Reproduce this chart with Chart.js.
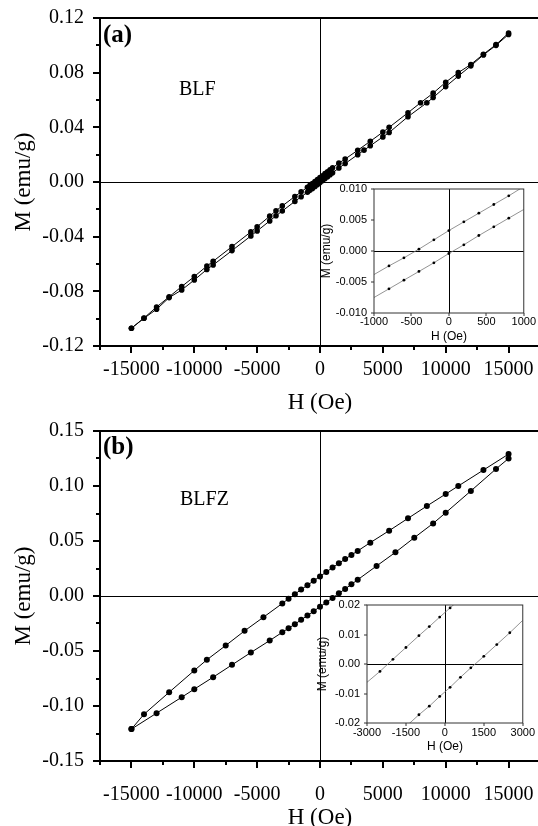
<!DOCTYPE html>
<html>
<head>
<meta charset="utf-8">
<title>BLF / BLFZ M-H loops</title>
<script src="https://cdn.jsdelivr.net/npm/chart.js@4.4.1/dist/chart.umd.min.js"></script>
<style>
  html, body { margin: 0; padding: 0; background: #fff; overflow: hidden; }
  body { width: 538px; height: 826px; position: relative; }
  canvas { position: absolute; }
</style>
</head>
<body>
<canvas id="mainA" width="545" height="414" style="left:0;top:0"></canvas>
<canvas id="mainB" width="545" height="416" style="left:0;top:413px"></canvas>
<canvas id="insetA" width="220" height="162" style="left:318px;top:181px"></canvas>
<canvas id="insetB" width="224" height="156" style="left:314px;top:597px"></canvas>
<script>
// (a) BLF, field going down (upper branch) and going up (lower branch)
const hA_down = [15000, 14000, 13000, 12000, 11000, 10000, 9000, 8000, 7000, 5500, 5000, 4000, 3000, 2000, 1500,
  1000, 800, 600, 400, 200, 0, -200, -400, -600, -800, -1000, -1500, -2000, -3000, -3500, -4000, -5000, -5500,
  -7000, -8500, -9000, -10000, -11000, -12000, -13000, -14000, -15000];
const mA_down = [0.109, 0.1005, 0.0935, 0.0860, 0.0800, 0.0730, 0.0650, 0.0580, 0.0507, 0.0400, 0.0365, 0.0298, 0.0232, 0.0168, 0.0138,
  0.0104, 0.0089, 0.0075, 0.0061, 0.0046, 0.0033, 0.0018, 0.0003, -0.0011, -0.0024, -0.0038, -0.0072, -0.0106, -0.0175, -0.0210, -0.0250, -0.0327, -0.0365,
  -0.0473, -0.0580, -0.0615, -0.0692, -0.0765, -0.0840, -0.0915, -0.0995, -0.107];
const hA_up = [-15000, -14000, -13000, -12000, -11000, -10000, -9000, -8500, -7000, -5500, -5000, -4000, -3500, -3000,
  -2000, -1500, -1000, -800, -600, -400, -200, 0, 200, 400, 600, 800, 1000, 1500, 2000, 3000, 3500, 4000, 5000, 5500,
  7000, 8500, 9000, 10000, 11000, 12000, 13000, 14000, 15000];
const mA_up = [-0.107, -0.0997, -0.0931, -0.0846, -0.0790, -0.0717, -0.0640, -0.0607, -0.0502, -0.0395, -0.0358, -0.0285, -0.0247, -0.0212,
  -0.0142, -0.0108, -0.0075, -0.0061, -0.0047, -0.0033, -0.0019, -0.0004, 0.0010, 0.0025, 0.0039, 0.0053, 0.0067, 0.0102, 0.0135, 0.0200, 0.0233, 0.0265, 0.0330, 0.0362,
  0.0478, 0.0580, 0.0618, 0.0698, 0.0775, 0.0850, 0.0930, 0.1000, 0.1080];

// (b) BLFZ
const hB_down = [15000, 13000, 11000, 10000, 8500, 7000, 5500, 4000, 3000, 2500, 2000, 1500, 1000, 500, 0,
  -500, -1000, -1500, -2000, -2500, -3000, -4500, -6000, -7500, -9000, -10000, -12000, -14000, -15000];
const mB_down = [0.129, 0.1145, 0.100, 0.0927, 0.0818, 0.0706, 0.0594, 0.0485, 0.0410, 0.0373, 0.0336, 0.0297, 0.0258, 0.0218, 0.0178,
  0.0138, 0.0098, 0.0058, 0.0017, -0.0024, -0.0068, -0.0193, -0.0317, -0.0450, -0.0580, -0.0677, -0.0875, -0.1075, -0.121];
const hB_up = [-15000, -13000, -11000, -10000, -8500, -7000, -5500, -4000, -3000, -2500, -2000, -1500, -1000, -500, 0,
  500, 1000, 1500, 2000, 2500, 3000, 4500, 6000, 7500, 9000, 10000, 12000, 14000, 15000];
const mB_up = [-0.121, -0.1065, -0.0920, -0.0847, -0.0738, -0.0626, -0.0514, -0.0405, -0.0330, -0.0293, -0.0256, -0.0217, -0.0178, -0.0138, -0.0098,
  -0.0058, -0.0018, 0.0024, 0.0064, 0.0106, 0.0148, 0.0273, 0.0397, 0.0530, 0.0660, 0.0757, 0.0955, 0.1155, 0.125];

// insets (low field region)
const hIA = [-1000, -800, -600, -400, -200, 0, 200, 400, 600, 800, 1000];
const mIA_down = [-0.0038, -0.0024, -0.0011, 0.0003, 0.0018, 0.0033, 0.0047, 0.0061, 0.0075, 0.0089, 0.0104];
const mIA_up = [-0.0075, -0.0061, -0.0047, -0.0033, -0.0019, -0.0004, 0.0010, 0.0025, 0.0039, 0.0053, 0.0067];
const hIB_down = [-3000, -2500, -2000, -1500, -1000, -600, -200, 200, 600];
const mIB_down = [-0.0062, -0.0025, 0.0016, 0.0056, 0.0096, 0.0127, 0.0159, 0.0190, 0.0222];
const hIB_up = [-1500, -1000, -600, -200, 200, 600, 1000, 1500, 2000, 2500, 3000];
const mIB_up = [-0.0212, -0.0172, -0.0143, -0.0110, -0.0079, -0.0045, -0.0013, 0.0026, 0.0066, 0.0106, 0.0148];

// tick labels
const xTicksMain = [-15000, -10000, -5000, 0, 5000, 10000, 15000];
const yTicksA = [-0.12, -0.08, -0.04, 0, 0.04, 0.08, 0.12];
const yTicksB = [-0.15, -0.10, -0.05, 0, 0.05, 0.10, 0.15];
const xTicksIA = [-1000, -500, 0, 500, 1000];
const yTicksIA = [-0.010, -0.005, 0, 0.005, 0.010];
const xTicksIB = [-3000, -1500, 0, 1500, 3000];
const yTicksIB = [-0.02, -0.01, 0, 0.01, 0.02];

const SERIF = 'Liberation Serif';
const SANS = 'Liberation Sans';

const pts = (h, m) => h.map((v, i) => ({ x: v, y: m[i] }));
const isMajor = (major, v) => major.some(m => Math.abs(m - v) < 1e-9);
const fmt = (v, d) => (Math.abs(v) < 1e-9 ? 0 : v).toFixed(d);

// major ticks, plus the halfway minor ones if asked
function tickList(major, min, max, minor) {
  const step = (major[1] - major[0]) / (minor ? 2 : 1);
  const out = [];
  for (let k = 0; min + k * step <= max + step * 1e-6; k++) out.push({ value: +(min + k * step).toFixed(6) });
  return out;
}

// box, zero lines, outward ticks and the free text
const framePlugin = {
  id: 'frame',
  beforeDatasetsDraw(chart, args, o) {
    const { ctx, chartArea: a, scales: { x, y } } = chart;
    const px = Math.round(x.getPixelForValue(0)) + 0.5;
    const py = Math.round(y.getPixelForValue(0)) + 0.5;
    ctx.save();
    ctx.strokeStyle = '#000';
    ctx.lineWidth = o.zeroWidth;
    ctx.beginPath();
    ctx.moveTo(px, a.top); ctx.lineTo(px, a.bottom);
    ctx.moveTo(a.left, py); ctx.lineTo(a.right, py);
    ctx.stroke();
    ctx.restore();
  },
  afterDraw(chart, args, o) {
    const { ctx, chartArea: a, scales: { x, y } } = chart;
    ctx.save();
    ctx.strokeStyle = o.color;
    ctx.lineWidth = o.width;
    ctx.strokeRect(a.left, a.top, a.right - a.left, a.bottom - a.top);
    ctx.beginPath();
    x.ticks.forEach(t => {
      const p = Math.round(x.getPixelForValue(t.value));
      ctx.moveTo(p, a.bottom); ctx.lineTo(p, a.bottom + (isMajor(o.xMajor, t.value) ? o.major : o.minor));
    });
    y.ticks.forEach(t => {
      const p = Math.round(y.getPixelForValue(t.value));
      ctx.moveTo(a.left, p); ctx.lineTo(a.left - (isMajor(o.yMajor, t.value) ? o.major : o.minor), p);
    });
    ctx.stroke();
    ctx.fillStyle = '#000';
    ctx.textBaseline = 'middle';
    (o.texts || []).forEach(t => {
      ctx.font = t.font;
      ctx.fillText(t.text, a.left + t.dx, a.top + t.dy);
    });
    ctx.restore();
  }
};

// the label gap is kept in an invisible tick mark (grid.tickLength), so the
// vertical axes do not push the plot area down with their label padding
function axis(o) {
  return {
    type: 'linear', min: o.min, max: o.max,
    afterBuildTicks: s => { s.ticks = tickList(o.major, o.min, o.max, o.minor); },
    afterFit: s => { if (s.isHorizontal()) s.height = o.size; else s.width = o.size; },
    grid: { display: true, drawOnChartArea: false, drawTicks: true, tickLength: o.gap, tickColor: 'rgba(0,0,0,0)' },
    border: { display: false },
    ticks: {
      autoSkip: false, maxRotation: 0, padding: o.pad, color: '#000', font: o.font,
      callback: v => isMajor(o.major, v) ? fmt(v, o.dec) : ''
    },
    title: { display: true, text: o.title, color: '#000', font: o.titleFont, padding: o.titlePad }
  };
}

function makeChart(id, c) {
  return new Chart(document.getElementById(id), {
    type: 'scatter',
    data: {
      datasets: c.series.map(s => ({
        data: s, showLine: true, tension: 0,
        borderColor: c.lineColor, borderWidth: c.lineWidth,
        pointRadius: c.radius, pointHoverRadius: c.radius,
        pointBackgroundColor: '#000', pointBorderWidth: 0,
        clip: 0
      }))
    },
    options: {
      responsive: false, animation: false, events: [],
      layout: { padding: c.padding },
      plugins: { legend: { display: false }, tooltip: { enabled: false }, frame: c.frame },
      scales: { x: axis(c.x), y: axis(c.y) }
    },
    plugins: [framePlugin]
  });
}

const mainX = (size, gap) => ({
  min: -17500, max: 17500, major: xTicksMain, minor: true, dec: 0, size: size, gap: gap, pad: 0,
  font: { family: SERIF, size: 20 }, title: 'H (Oe)',
  titleFont: { family: SERIF, size: 23, lineHeight: 1 }, titlePad: { top: 0, bottom: 0 }
});
const mainY = (major) => ({
  min: major[0], max: major[major.length - 1], major: major, minor: true, dec: 2, size: 100, gap: 16, pad: 0,
  font: { family: SERIF, size: 20 }, title: 'M (emu/g)',
  titleFont: { family: SERIF, size: 23, lineHeight: 1 }, titlePad: { top: 12, bottom: 0 }
});
const insetX = (major, pad) => ({
  min: major[0], max: major[major.length - 1], major: major, minor: false, dec: 0, size: 30, gap: 0, pad: pad,
  font: { family: SANS, size: 11 }, title: 'H (Oe)',
  titleFont: { family: SANS, size: 12, lineHeight: 1 }, titlePad: { top: 0, bottom: 0 }
});
const insetY = (major, dec, size) => ({
  min: major[0], max: major[major.length - 1], major: major, minor: false, dec: dec, size: size, gap: 7, pad: 0,
  font: { family: SANS, size: 11 }, title: 'M (emu/g)',
  titleFont: { family: SANS, size: 12, lineHeight: 1 }, titlePad: { top: 3, bottom: 0 }
});

makeChart('mainA', {
  series: [pts(hA_down, mA_down), pts(hA_up, mA_up)],
  lineColor: '#000', lineWidth: 1, radius: 2.8,
  padding: { left: 0, top: 18, right: 5, bottom: 0 },
  x: mainX(68, 12), y: mainY(yTicksA),
  frame: {
    color: '#000', width: 2, zeroWidth: 1, major: 7, minor: 4, xMajor: xTicksMain, yMajor: yTicksA,
    texts: [
      { text: '(a)', dx: 3, dy: 18, font: 'bold 25px "Liberation Serif"' },
      { text: 'BLF', dx: 79, dy: 72, font: '20px "Liberation Serif"' }
    ]
  }
});

makeChart('mainB', {
  series: [pts(hB_down, mB_down), pts(hB_up, mB_up)],
  lineColor: '#000', lineWidth: 1, radius: 3,
  padding: { left: 0, top: 18, right: 5, bottom: 0 },
  x: mainX(68, 22), y: mainY(yTicksB),
  frame: {
    color: '#000', width: 2, zeroWidth: 1, major: 7, minor: 4, xMajor: xTicksMain, yMajor: yTicksB,
    texts: [
      { text: '(b)', dx: 3, dy: 17, font: 'bold 25px "Liberation Serif"' },
      { text: 'BLFZ', dx: 80, dy: 69, font: '20px "Liberation Serif"' }
    ]
  }
});

const edgeHidden = (xmax, r) => c => (c.raw && Math.abs(c.raw.x) >= xmax ? 0 : r);

makeChart('insetA', {
  series: [pts(hIA, mIA_down), pts(hIA, mIA_up)],
  lineColor: '#777', lineWidth: 0.8, radius: edgeHidden(1000, 1.4),
  padding: { left: 0, top: 8, right: 14, bottom: 0 },
  x: insetX(xTicksIA, 2), y: insetY(yTicksIA, 3, 56),
  frame: { color: '#333', width: 1, zeroWidth: 1, major: 3, minor: 3, xMajor: xTicksIA, yMajor: yTicksIA }
});

makeChart('insetB', {
  series: [pts(hIB_down, mIB_down), pts(hIB_up, mIB_up)],
  lineColor: '#777', lineWidth: 0.8, radius: edgeHidden(3000, 1.4),
  padding: { left: 0, top: 8, right: 14, bottom: 0 },
  x: insetX(xTicksIB, 3), y: insetY(yTicksIB, 2, 53),
  frame: { color: '#333', width: 1, zeroWidth: 1, major: 3, minor: 3, xMajor: xTicksIB, yMajor: yTicksIB }
});
</script>
</body>
</html>
